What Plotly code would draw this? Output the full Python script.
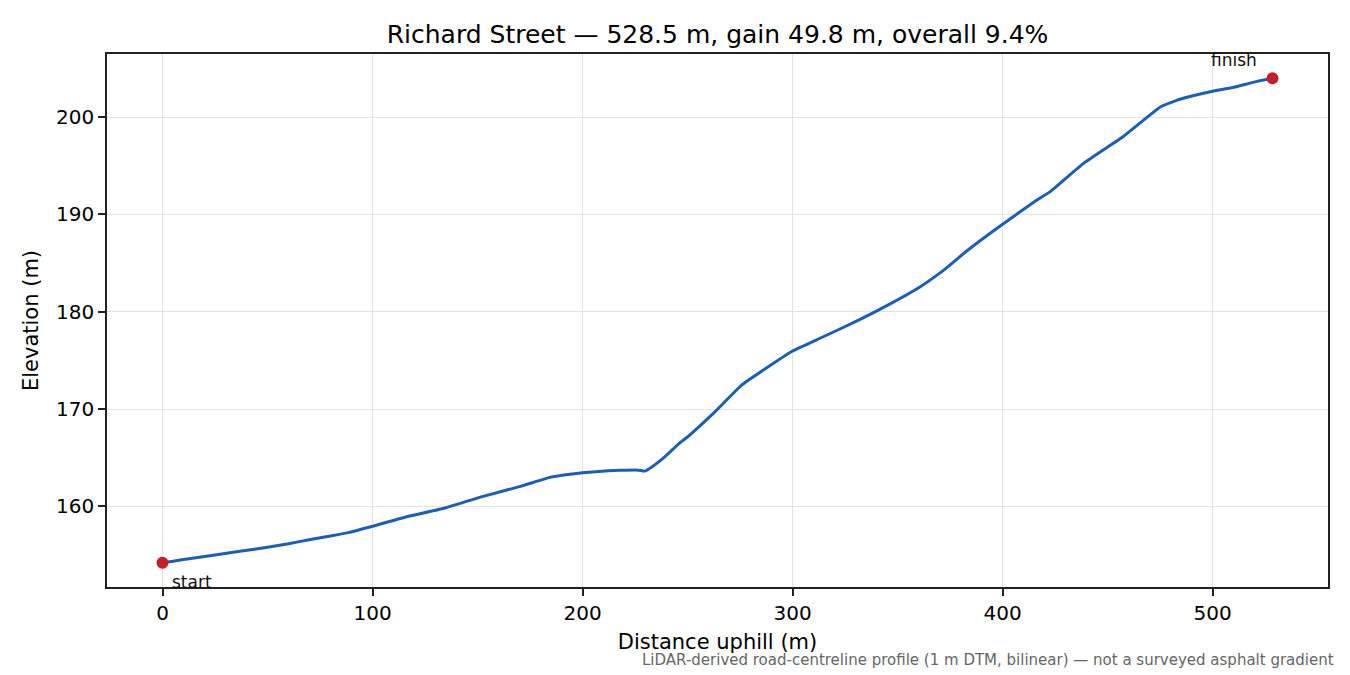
import plotly.graph_objects as go

# Profile data
dist_m = [0, 5, 15, 25, 37.6, 50, 60, 70.4, 80, 88.5, 100, 115.8, 134, 152.2, 170.4,
          184.9, 192, 200, 212.2, 218, 226.7, 229.5, 233, 238.7, 246.7, 249.8, 262.5,
          276, 289.5, 300, 313.3, 329.2, 345.1, 361, 372.1, 383.2, 400, 416.5, 423,
          438.8, 457.8, 475.3, 484.8, 500, 510.1, 519.7, 528.5]
elev_m = [154.2, 154.35, 154.7, 155.0, 155.4, 155.8, 156.15, 156.6, 156.95, 157.3,
          157.95, 158.9, 159.8, 161.0, 162.05, 163.0, 163.25, 163.45, 163.65, 163.7,
          163.72, 163.62, 164.05, 165.0, 166.6, 167.1, 169.6, 172.5, 174.5, 175.96,
          177.3, 178.9, 180.65, 182.6, 184.3, 186.3, 189.0, 191.5, 192.4, 195.3, 198.07,
          201.07, 201.86, 202.66, 203.07, 203.6, 204.0]

end_labels = ["start", "finish"]
end_dist = [dist_m[0], dist_m[-1]]
end_elev = [elev_m[0], elev_m[-1]]

x_ticks = [0, 100, 200, 300, 400, 500]
y_ticks = [160, 170, 180, 190, 200]

title_text = "Richard Street — 528.5 m, gain 49.8 m, overall 9.4%"
note_text = "LiDAR-derived road-centreline profile (1 m DTM, bilinear) — not a surveyed asphalt gradient"

FONT = "DejaVu Sans"
LINE = "#1a5fb4"
DOT = "#c41e2a"

xspan = max(dist_m) - min(dist_m)
yspan = max(elev_m) - min(elev_m)
xr = [min(dist_m) - 0.05 * xspan, max(dist_m) + 0.05 * xspan]
yr = [min(elev_m) - 0.05 * yspan, max(elev_m) + 0.05 * yspan]

fig = go.Figure()
fig.add_trace(go.Scatter(x=dist_m, y=elev_m, mode="lines",
                         line=dict(color=LINE, width=3, shape="spline", smoothing=0.4),
                         showlegend=False, hoverinfo="skip"))
fig.add_trace(go.Scatter(x=end_dist, y=end_elev, mode="markers",
                         marker=dict(color=DOT, size=12), showlegend=False))

fig.add_annotation(x=end_dist[0], y=end_elev[0], text=end_labels[0], showarrow=False,
                   xanchor="left", yanchor="middle", xshift=7, yshift=-19,
                   font=dict(family=FONT, size=17, color="#111"))
fig.add_annotation(x=end_dist[1], y=end_elev[1], text=end_labels[1], showarrow=False,
                   xanchor="center", yanchor="middle", xshift=-39, yshift=18,
                   font=dict(family=FONT, size=17, color="#111"))
fig.add_annotation(xref="paper", yref="paper", x=1.0066, y=0, yshift=-73,
                   text=note_text, showarrow=False, xanchor="right", yanchor="middle",
                   font=dict(family=FONT, size=15, color="#666666"))

axis_common = dict(showline=True, linecolor="#222", linewidth=1.7, mirror=True,
                   ticks="outside", ticklen=7, tickwidth=1.6, tickcolor="#222",
                   showgrid=True, gridcolor="#e2e2e2", gridwidth=1.4, zeroline=False,
                   tickfont=dict(family=FONT, size=20, color="#000"))

fig.update_layout(
    width=1350, height=675,
    paper_bgcolor="white", plot_bgcolor="white",
    margin=dict(l=107, r=22, t=54, b=88),
    title=dict(text=title_text, x=0.5315, xanchor="center", y=1 - 34 / 675,
               yanchor="middle", font=dict(family=FONT, size=25, color="#000")),
    xaxis=dict(range=xr, tickvals=x_ticks,
               title=dict(text="Distance uphill (m)", standoff=10,
                          font=dict(family=FONT, size=21, color="#000")),
               **axis_common),
    yaxis=dict(range=yr, tickvals=y_ticks,
               title=dict(text="Elevation (m)", standoff=12,
                          font=dict(family=FONT, size=21, color="#000")),
               **axis_common),
)

fig.write_html("out.html", config={"displayModeBar": False},
               post_script="document.body.style.margin='0px';document.body.style.overflow='hidden';")
